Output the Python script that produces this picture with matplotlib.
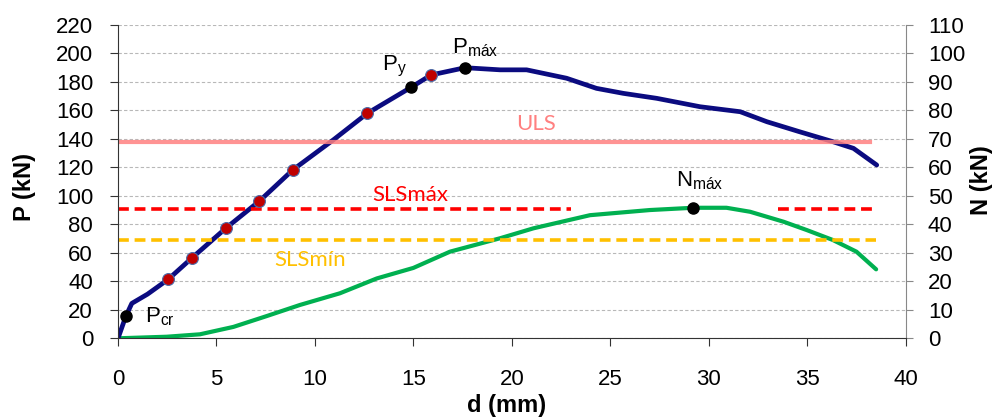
import numpy as np
import matplotlib
matplotlib.use("Agg")
import matplotlib.pyplot as plt

plt.rcParams['font.family'] = ['Liberation Sans', 'DejaVu Sans']
plt.rcParams['mathtext.fontset'] = 'custom'
plt.rcParams['mathtext.rm'] = 'Liberation Sans'

# Curva carga-desplazamiento P(d)
d_P = [0, 0.4, 0.7, 1.5, 2.55, 3.77, 5.47, 7.18, 8.87, 10.93, 12.66, 14.88, 15.9,
       17.62, 19.4, 20.75, 22.78, 24.3, 25.66, 27.36, 29.56, 31.6, 32.95, 34.6,
       36.3, 37.35, 38.53]
P = [0, 15.6, 24.5, 31, 41.4, 56.6, 77.2, 96.3, 118.1, 139.2, 157.9, 176.1, 184.8,
     189.9, 188.4, 188.4, 182.5, 175.4, 171.9, 168.4, 162.5, 159, 152, 145,
     138, 133.3, 121.6]

# Curva N(d)
d_N = [0, 2.47, 4.16, 5.86, 7.55, 9.24, 11.27, 13.14, 15.0, 16.86, 19.4, 21.1,
       23.97, 27.0, 29.2, 30.9, 32.1, 33.8, 34.97, 36.3, 37.5, 38.5]
N = [0, 0.55, 1.4, 4.0, 7.8, 11.7, 15.8, 21.0, 24.7, 30.4, 35.1, 38.6, 43.2,
     45.0, 45.8, 45.8, 44.4, 40.9, 38.0, 34.5, 30.4, 24.2]

# Puntos de carga (rojo) y puntos singulares (negro)
d_red = [2.55, 3.77, 5.47, 7.18, 8.87, 12.66, 15.9]
P_red = [41.4, 56.6, 77.2, 96.3, 118.1, 157.9, 184.8]
d_blk = [0.4, 14.88, 17.62]
P_blk = [15.6, 176.1, 189.9]
d_Nmax, Nmax = 29.2, 45.8

# Niveles
ULS = 138
ULS_range = [0, 38.2]
SLS_max = 91
SLS_max_segs = [[0, 23.0], [33.5, 38.5]]
SLS_min = 69
SLS_min_range = [0, 38.5]

fig = plt.figure(figsize=(9.96, 4.19), dpi=100)
ax = fig.add_axes([0.1185, 0.1926, 0.7908, 0.7482])
ax2 = ax.twinx()
ax.set_zorder(ax2.get_zorder() + 1)
ax.patch.set_visible(False)

# N en eje derecho
ax2.plot(d_N, N, color='#00b050', lw=3, solid_capstyle='round')
ax2.plot([d_Nmax], [Nmax], 'o', color='black', ms=8)
ax2.set_ylim(0, 110)
ax2.set_yticks(np.arange(0, 111, 10))
ax2.yaxis.grid(True, linestyle=(0, (3, 2)), color='#b8b8b8', lw=0.8)

# P en eje izquierdo
ax.plot(d_P, P, color='#0b0b80', lw=3.4, solid_capstyle='round')
ax.plot(ULS_range, [ULS, ULS], color='#ff8080', lw=3, alpha=0.85)
for seg in SLS_max_segs:
    ax.plot(seg, [SLS_max, SLS_max], color='#ff0000', lw=2.6, dashes=(3, 1.6))
ax.plot(SLS_min_range, [SLS_min, SLS_min], color='#ffc000', lw=2.6, dashes=(3, 1.6))
ax.plot(d_red, P_red, 'o', color='#c00000', mec='#4a6aa8', mew=0.8, ms=8.5, zorder=5)
ax.plot(d_blk, P_blk, 'o', color='black', ms=8, zorder=5)

ax.set_xlim(0, 40)
ax.set_ylim(0, 220)
ax.set_xticks(np.arange(0, 41, 5))
ax.set_yticks(np.arange(0, 221, 20))

for a in (ax, ax2):
    a.spines['top'].set_visible(False)
ax.spines['right'].set_visible(False)
ax2.spines['left'].set_visible(False)
ax2.spines['bottom'].set_visible(False)
ax2.spines['right'].set_color('#888888')
ax.spines['left'].set_color('#333333')
ax.spines['bottom'].set_color('#333333')

ax.tick_params(axis='y', labelsize=16, length=6, pad=12, color='#333333')
ax.tick_params(axis='x', labelsize=16, length=6, pad=16, color='#333333')
ax2.tick_params(axis='y', labelsize=16, length=5, pad=11, color='#888888')

# Etiquetas de puntos
ax.text(1.37, 11.4, r'$\mathregular{P_{cr}}$', fontsize=16, va='baseline')
ax.text(13.39, 188.3, r'$\mathregular{P_{y}}$', fontsize=16, va='baseline')
ax.text(16.95, 200, r'$\mathregular{P_{máx}}$', fontsize=16, va='baseline')
ax.text(28.34, 106.4, r'$\mathregular{N_{máx}}$', fontsize=16, va='baseline')

# Etiquetas de niveles
ax.text(21.23, 150.4, 'ULS', color='#ff8080', fontsize=16, family='Lato',
        ha='center', va='center')
ax.text(14.83, 100.6, 'SLSmáx', color='#ff0000', fontsize=16, family='Lato',
        ha='center', va='center')
ax.text(9.75, 55, 'SLSmín', color='#ffc000', fontsize=16, family='Lato',
        ha='center', va='center')

fig.text(0.0251, 0.5537, 'P (kN)', rotation=90, fontsize=17, fontweight='bold',
         ha='center', va='center')
fig.text(0.9857, 0.5704, 'N (kN)', rotation=90, fontsize=17, fontweight='bold',
         ha='center', va='center')
fig.text(0.5087, 0.016, 'd (mm)', fontsize=17, fontweight='bold',
         ha='center', va='baseline')

fig.savefig('out.png', dpi=100)
